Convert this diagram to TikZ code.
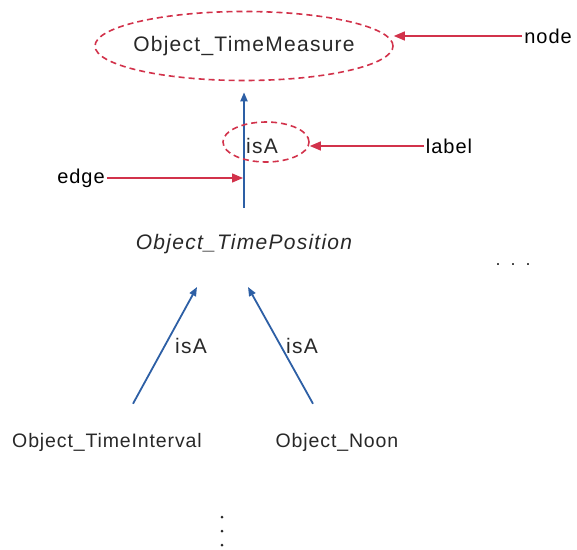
\documentclass[tikz,border=0pt]{standalone}
\usepackage{fontspec}
\setmainfont{Liberation Sans}
\newfontfamily\spcfont{Liberation Sans}[LetterSpace=6]
\newfontfamily\spcfontb{Liberation Sans}[LetterSpace=4.5]
\newfontfamily\annfont{Liberation Sans}[LetterSpace=5]
\usetikzlibrary{arrows.meta,shapes.geometric,calc}
\definecolor{annred}{RGB}{210,50,75}
\definecolor{edgeblue}{RGB}{45,95,165}
\definecolor{txtgray}{RGB}{40,40,40}
\begin{document}
\begin{tikzpicture}[x=1pt,y=-1pt,
  concept/.style={font=\spcfont\fontsize{21}{23}\selectfont, text=txtgray, inner sep=3pt},
  conceptb/.style={font=\spcfontb\fontsize{19.5}{21}\selectfont, text=txtgray, inner sep=3pt},
  ring/.style={ellipse, draw=annred, dashed, dash pattern=on 6pt off 4pt, line width=1.6pt},
  ann/.style={font=\annfont\fontsize{20}{22}\selectfont, text=black, inner sep=2pt},
  redarr/.style={draw=annred, line width=1.3pt, -{Triangle[length=11pt,width=9pt]}},
  isa/.style={draw=edgeblue, line width=1.8pt, -{Triangle[length=9pt,width=7pt]}},
  isalbl/.style={font=\spcfont\fontsize{21}{23}\selectfont, text=txtgray, inner sep=0pt},
  dot/.style={circle, fill=txtgray, inner sep=0pt, minimum size=3pt}]
\useasboundingbox (0,0) rectangle (577,549);
% nodes
\node[concept, ring, inner sep=0pt, minimum width=298pt, minimum height=69pt] (tm) at (244,46) {\makebox[0pt]{Object\_TimeMeasure}};
\node[concept, font=\spcfont\itshape\fontsize{21}{23}\selectfont] (tp) at (244,244) {Object\_TimePosition};
\node[conceptb] (ti) at (107,442) {Object\_TimeInterval};
\node[conceptb] (noon) at (337,442) {Object\_Noon};
% edges
\draw[isa, shorten <=23pt, shorten >=11pt] (tp.north) -- (tm.south);
\node[isalbl] (l0) at (262,146) {isA};
\node[ring, minimum width=86pt, minimum height=40pt] (lring) at (266,142) {};
\draw[isa] ($(ti.north)+(26,-26)$) -- ($(tp.south)+(-47,30)$);
\draw[isa] ($(noon.north)+(-24,-26)$) -- ($(tp.south)+(4,30)$);
\node[isalbl] (l1) at (191,346) {isA};
\node[isalbl] (l2) at (302,346) {isA};
% annotations
\node[ann] (nodelbl) at (548,36) {node};
\node[ann] (labellbl) at (449,146) {label};
\node[ann] (edgelbl) at (81,178) {edge};
\draw[redarr] (nodelbl.west) -- (nodelbl.west -| tm.east);
\draw[redarr] (labellbl.west) -- (labellbl.west -| lring.east);
\coordinate (edgehit) at (edgelbl.east -| tp.center);
\draw[redarr, shorten >=1pt] (edgelbl.east) -- (edgehit);
% continuation marks
\node[font=\fontsize{18}{20}\selectfont, text=txtgray, anchor=base, inner sep=0pt] (hdots) at (513,265) {.\hspace{10pt}.\hspace{10pt}.};
\node[dot] (vd1) at (222,517) {};
\node[dot] (vd2) at (222,531) {};
\node[dot] (vd3) at (222,545) {};
\end{tikzpicture}
\end{document}
